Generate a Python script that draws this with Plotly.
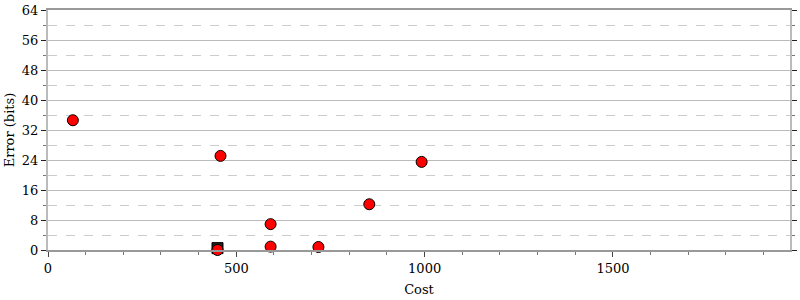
import plotly.graph_objects as go

# data
cost_pts = [66, 458, 450, 591, 591, 718, 853, 992]
err_pts = [34.6, 25.1, 0.0, 6.9, 0.9, 0.8, 12.2, 23.5]
best_cost = [450]
best_err = [0.5]

x_ticks = [0, 500, 1000, 1500]
y_ticks = [0, 8, 16, 24, 32, 40, 48, 56, 64]

font_family = "DejaVu Serif"

fig = go.Figure()
fig.add_trace(go.Scatter(
    x=best_cost, y=best_err, mode="markers",
    marker=dict(symbol="square", size=11, color="#222", line=dict(color="black", width=1)),
    cliponaxis=False, showlegend=False))
fig.add_trace(go.Scatter(
    x=cost_pts, y=err_pts, mode="markers",
    marker=dict(symbol="circle", size=11, color="#ff0000", line=dict(color="black", width=1)),
    cliponaxis=False, showlegend=False))

fig.update_layout(
    width=800, height=300,
    margin=dict(l=48, r=3, t=8, b=50),
    plot_bgcolor="white", paper_bgcolor="white",
    font=dict(family=font_family, size=13, color="black"),
    xaxis=dict(
        range=[0, 1970], tickvals=x_ticks, showgrid=False, zeroline=False,
        showline=True, linecolor="#999", linewidth=2, mirror=True,
        ticks="outside", ticklen=5, tickcolor="#444", tickwidth=1,
        minor=dict(dtick=100, tick0=0, ticks="outside", ticklen=3, tickcolor="#777", showgrid=False),
        title=dict(text="Cost", standoff=10, font=dict(size=13)),
        tickfont=dict(size=13),
    ),
    yaxis=dict(
        range=[0, 64], tickvals=y_ticks, showgrid=True, gridcolor="#bbbbbb", gridwidth=1,
        zeroline=False, showline=True, linecolor="#bbbbbb", linewidth=2, mirror="allticks",
        ticks="outside", ticklen=5, tickcolor="#222", tickwidth=1,
        minor=dict(dtick=4, tick0=0, ticks="outside", ticklen=3, tickcolor="#777",
                   showgrid=True, gridcolor="#cccccc", griddash="dash", gridwidth=1),
        title=dict(text="Error (bits)", standoff=4, font=dict(size=13)),
        tickfont=dict(size=13),
    ),
)

fig.write_html("out.html")
